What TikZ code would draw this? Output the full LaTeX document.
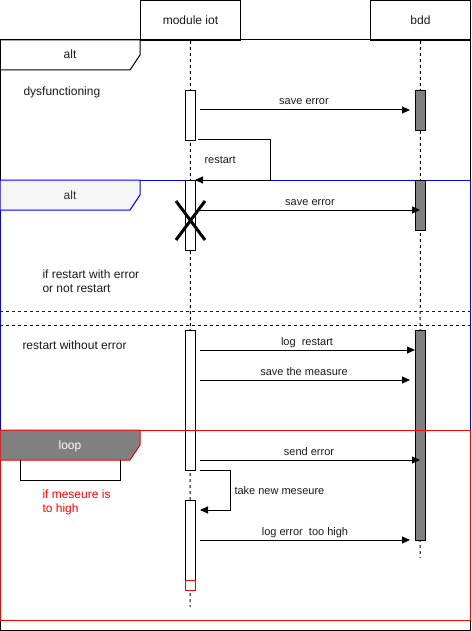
\documentclass[tikz,border=0pt]{standalone}
\usepackage{fontspec}
\setmainfont{Liberation Sans}
\usetikzlibrary{arrows.meta}
\definecolor{actgray}{HTML}{808080}
\definecolor{tabfill}{HTML}{F5F5F5}
\definecolor{bluef}{HTML}{0000FF}
\definecolor{redf}{HTML}{FF0000}
\definecolor{txtgray}{HTML}{333333}
\definecolor{txtdark}{HTML}{1A1A1A}
\begin{document}
\begin{tikzpicture}[x=1pt,y=-1pt,line width=1pt,
  head/.style={draw,minimum width=100pt,minimum height=40pt,inner sep=0pt,anchor=north west,font=\fontsize{12}{14}\selectfont,text=txtdark},
  actbox/.style={draw,fill=white,minimum width=10pt,inner sep=0pt,anchor=north west},
  dbact/.style={actbox,fill=actgray},
  msg/.style={-{Triangle[length=8pt,width=7pt]}},
  lbl/.style={font=\fontsize{11}{13}\selectfont,inner sep=0pt,anchor=base,text=txtdark},
  txt/.style={font=\fontsize{12}{14}\selectfont,inner sep=0pt,anchor=base west,text=txtdark},
  lifeline/.style={dash pattern=on 3pt off 3pt},
  divider/.style={dash pattern=on 3pt off 3pt}]
\useasboundingbox (0,0) rectangle (471,631);
% headers
\node[head] (iot) at (140,0) {module iot};
\node[head] (bdd) at (370,0) {bdd};
% lifelines
\coordinate (iotend) at (190,607);
\coordinate (bddend) at (420,558);
\draw[lifeline] (iot.south) -- (iotend);
\draw[lifeline] (bdd.south) -- (bddend);
% outer alt frame
\draw (0,40) rectangle (470,630);
\draw (0,40) -- (140,40) -- (140,55) -- (130,70) -- (0,70);
\node[txt,anchor=base] (alt1) at (70,59) {alt};
\node[txt] (dys) at (23,96) {dysfunctioning};
\draw[divider] (0,325) -- (470,325);
% blue alt frame
\draw[bluef] (0,180) rectangle (470,430);
\draw[bluef,fill=tabfill] (0,180) -- (140,180) -- (140,195) -- (130,210) -- (0,210) -- cycle;
\node[txt,anchor=base,text=txtgray] (alt2) at (70,199) {alt};
\draw[bluef,divider] (0,311) -- (470,311);
\node[txt,align=left,anchor=base west] (c1) at (42,278) {if restart with error};
\node[txt] (c1b) at (42,292) {or not restart};
\node[txt] (c2) at (22,349) {restart without error};
% activations
\node[actbox,minimum height=50pt] (a1) at (185,90) {};
\node[dbact,minimum height=40pt] (b1) at (415,90) {};
\node[actbox,minimum height=70pt] (a2) at (185,180) {};
\node[dbact,minimum height=50pt] (b2) at (415,180) {};
\node[actbox,minimum height=140pt] (a3) at (185,330) {};
\node[dbact,minimum height=210pt] (b3) at (415,330) {};
\node[actbox,minimum height=80pt] (a4) at (185,500) {};
\node[actbox,draw=redf,minimum height=10pt] (a5) at (185,580) {};
% red loop frame
\draw[redf] (0,430) rectangle (470,620);
\draw[redf,fill=actgray] (0,430) -- (140,430) -- (140,445) -- (130,460) -- (0,460) -- cycle;
\node[txt,anchor=base,text=white] (loop) at (70,449) {loop};
\draw (20,460) -- (20,480) -- (120,480) -- (120,460);
\node[txt,text=redf] (c3) at (42,498) {if meseure is};
\node[txt,text=redf] (c3b) at (42,512) {to high};
% messages
\coordinate (m1s) at (200,110); \coordinate (m1e) at (410,110);
\draw[msg] (m1s) -- (m1e);
\node[lbl] (l1) at (304,105) {save error};
\coordinate (r1s) at (198,140); \coordinate (r1a) at (270,140);
\coordinate (r1b) at (270,180); \coordinate (r1e) at (195,180);
\draw[msg] (r1s) -- (r1a) -- (r1b) -- (r1e);
\node[txt,font=\fontsize{11}{13}\selectfont] (l2) at (204,164) {restart};
\coordinate (m2s) at (195,210); \coordinate (m2e) at (420,210);
\draw[msg] (m2s) -- (m2e);
\node[lbl] (l3) at (310,205) {save error};
% X
\coordinate (x1) at (176,201); \coordinate (x2) at (205,240);
\coordinate (x3) at (176,240); \coordinate (x4) at (205,201);
\draw[line width=3pt] (x1) -- (x2) (x3) -- (x4);
\coordinate (m3s) at (200,350); \coordinate (m3e) at (415,350);
\draw[msg] (m3s) -- (m3e);
\node[lbl] (l4) at (307,345) {log\ \ restart};
\coordinate (m4s) at (200,380); \coordinate (m4e) at (410,380);
\draw[msg] (m4s) -- (m4e);
\node[lbl] (l5) at (304,375) {save the measure};
\coordinate (m5s) at (200,460); \coordinate (m5e) at (420,460);
\draw[msg] (m5s) -- (m5e);
\node[lbl] (l6) at (309,455) {send error};
\coordinate (r2s) at (200,470); \coordinate (r2a) at (230,470);
\coordinate (r2b) at (230,510); \coordinate (r2e) at (200,510);
\draw[msg] (r2s) -- (r2a) -- (r2b) -- (r2e);
\node[txt,font=\fontsize{11}{13}\selectfont] (l7) at (234,494) {take new meseure};
\coordinate (m6s) at (200,540); \coordinate (m6e) at (410,540);
\draw[msg] (m6s) -- (m6e);
\node[lbl] (l8) at (305,535) {log error\ \ too high};
\end{tikzpicture}
\end{document}
